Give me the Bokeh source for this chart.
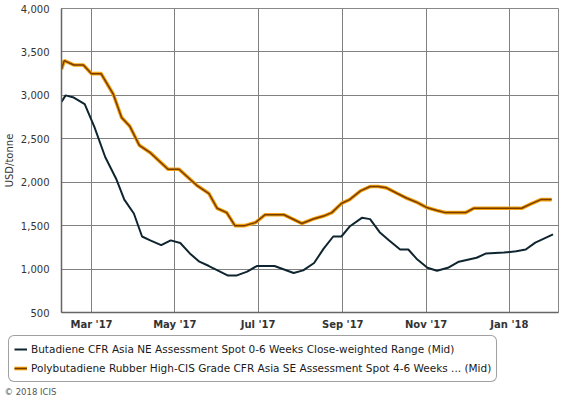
from datetime import datetime
from bokeh.plotting import figure
from bokeh.layouts import column
from bokeh.models import (Range1d, FixedTicker, Legend, LegendItem, Label)
from bokeh.embed import file_html
from bokeh.resources import INLINE

# ---------------- data ----------------
bd_dates = ["2017-02-07", "2017-02-10", "2017-02-16", "2017-02-24", "2017-03-03",
            "2017-03-11", "2017-03-19", "2017-03-25", "2017-04-01", "2017-04-07",
            "2017-04-13", "2017-04-21", "2017-04-28", "2017-05-05", "2017-05-12",
            "2017-05-19", "2017-05-26", "2017-06-02", "2017-06-09", "2017-06-15",
            "2017-06-23", "2017-06-30", "2017-07-13", "2017-07-21", "2017-07-27",
            "2017-08-03", "2017-08-11", "2017-08-18", "2017-08-25", "2017-08-31",
            "2017-09-06", "2017-09-15", "2017-09-21", "2017-09-28", "2017-10-05",
            "2017-10-13", "2017-10-19", "2017-10-25", "2017-11-02", "2017-11-09",
            "2017-11-17", "2017-11-25", "2017-12-08", "2017-12-15", "2017-12-28",
            "2018-01-06", "2018-01-13", "2018-01-20", "2018-02-02"]
bd_vals = [2925, 3000, 2975, 2900, 2640,
           2290, 2040, 1800, 1640, 1375,
           1330, 1275, 1330, 1300, 1180,
           1085, 1035, 980, 925, 925,
           970, 1035, 1035, 990, 955,
           985, 1070, 1235, 1375, 1375,
           1490, 1590, 1575, 1425, 1330,
           1225, 1225, 1120, 1015, 980,
           1015, 1085, 1130, 1180, 1190,
           1205, 1225, 1305, 1400]

pbr_dates = ["2017-02-07", "2017-02-09", "2017-02-16", "2017-02-23", "2017-03-01",
             "2017-03-08", "2017-03-17", "2017-03-23", "2017-03-29", "2017-04-05",
             "2017-04-13", "2017-04-26", "2017-05-04", "2017-05-17", "2017-05-26",
             "2017-06-01", "2017-06-08", "2017-06-14", "2017-06-21", "2017-06-29",
             "2017-07-06", "2017-07-20", "2017-08-02", "2017-08-11", "2017-08-18",
             "2017-08-24", "2017-08-31", "2017-09-06", "2017-09-14", "2017-09-21",
             "2017-09-27", "2017-10-03", "2017-10-11", "2017-10-18", "2017-10-25",
             "2017-11-02", "2017-11-09", "2017-11-15", "2017-11-30", "2017-12-06",
             "2018-01-10", "2018-01-16", "2018-01-24", "2018-02-01"]
pbr_vals = [3300, 3400, 3350, 3350, 3250,
            3250, 3010, 2745, 2645, 2425,
            2340, 2150, 2150, 1965, 1870,
            1700, 1650, 1500, 1500, 1535,
            1625, 1625, 1525, 1580, 1610,
            1650, 1755, 1800, 1900, 1950,
            1950, 1935, 1870, 1815, 1770,
            1705, 1675, 1650, 1650, 1700,
            1700, 1745, 1800, 1800]

tick_dates = ["2017-03-01", "2017-05-01", "2017-07-01", "2017-09-01", "2017-11-01", "2018-01-01"]
tick_labels = ["Mar '17", "May '17", "Jul '17", "Sep '17", "Nov '17", "Jan '18"]
y_ticks = [500, 1000, 1500, 2000, 2500, 3000, 3500, 4000]
y_labels = ["500", "1,000", "1,500", "2,000", "2,500", "3,000", "3,500", "4,000"]

series1_name = "Butadiene CFR Asia NE Assessment Spot 0-6 Weeks Close-weighted Range (Mid)"
series2_name = "Polybutadiene Rubber High-CIS Grade CFR Asia SE Assessment Spot 4-6 Weeks ... (Mid)"
copyright_text = "© 2018 ICIS"
x_start, x_end = "2017-02-07", "2018-02-06"

# ---------------- chart ----------------
def d(s):
    return datetime.strptime(s, "%Y-%m-%d")

def ms(s):
    return (d(s) - datetime(1970, 1, 1)).total_seconds() * 1000.0

FONT = "DejaVu Sans"
BD_COLOR = "#0e2530"
PBR_HALO = "#f2a20c"
PBR_CORE = "#7a3a00"

p = figure(width=560, height=334, x_axis_type="datetime",
           output_backend="svg", toolbar_location=None,
           min_border_left=61, min_border_right=2,
           min_border_top=8, min_border_bottom=22)
p.x_range = Range1d(d(x_start), d(x_end))
p.y_range = Range1d(500, 4000)

p.background_fill_color = "white"
p.border_fill_color = "white"
p.outline_line_color = "#888888"
p.outline_line_width = 1

xt = [ms(t) for t in tick_dates]
p.xaxis.ticker = FixedTicker(ticks=xt)
p.xaxis.major_label_overrides = {v: l for v, l in zip(xt, tick_labels)}
p.yaxis.ticker = FixedTicker(ticks=y_ticks)
p.yaxis.major_label_overrides = {v: l for v, l in zip(y_ticks, y_labels)}

for ax in (p.xaxis, p.yaxis):
    ax.major_tick_line_color = None
    ax.minor_tick_line_color = None
    ax.axis_line_color = "#666666"
    ax.axis_line_width = 1.5
    ax.major_label_text_font = FONT
    ax.major_label_text_color = "#333333"

p.xaxis.major_label_text_font_size = "10px"
p.xaxis.major_label_text_font_style = "bold"
p.xaxis.major_label_standoff = 0
p.yaxis.major_label_text_font_size = "10px"
p.yaxis.major_label_standoff = 6
p.yaxis.axis_label = "USD/tonne"
p.yaxis.axis_label_text_font = FONT
p.yaxis.axis_label_text_font_size = "10px"
p.yaxis.axis_label_text_font_style = "normal"
p.yaxis.axis_label_text_color = "#333333"
p.yaxis.axis_label_standoff = 3

p.xgrid.grid_line_color = "#808080"
p.ygrid.grid_line_color = "#808080"
p.xgrid.grid_line_width = 1
p.ygrid.grid_line_width = 1

p.line([d(s) for s in bd_dates], bd_vals, line_color=BD_COLOR, line_width=2)
p.line([d(s) for s in pbr_dates], pbr_vals, line_color=PBR_HALO, line_width=3.6)
p.line([d(s) for s in pbr_dates], pbr_vals, line_color=PBR_CORE, line_width=1.5)

# ---------------- legend + credit strip ----------------
q = figure(width=560, height=62, output_backend="svg", toolbar_location=None,
           x_axis_location=None, y_axis_location=None,
           min_border_left=0, min_border_right=0, min_border_top=0, min_border_bottom=0,
           x_range=Range1d(0, 1), y_range=Range1d(0, 1))
q.xgrid.visible = False
q.ygrid.visible = False
q.outline_line_color = None
q.background_fill_color = "white"
q.border_fill_color = "white"
if "frame_align" in q.properties():
    q.frame_align = False
    p.frame_align = False

# legend key lines sit outside the strip's visible range
l_bd = q.line([5, 6], [5, 6], line_color=BD_COLOR, line_width=2)
l_halo = q.line([5, 6], [5, 6], line_color=PBR_HALO, line_width=3.6)
l_core = q.line([5, 6], [5, 6], line_color=PBR_CORE, line_width=1.5)

legend = Legend(items=[LegendItem(label=series1_name, renderers=[l_bd]),
                       LegendItem(label=series2_name, renderers=[l_halo, l_core])],
                location=(8, 14), orientation="vertical")
legend.label_text_font = FONT
legend.label_text_font_size = "10.5px"
legend.label_text_color = "#1a1a1a"
legend.glyph_width = 13
legend.glyph_height = 16
legend.label_standoff = 4
legend.label_height = 16
legend.spacing = 3
legend.padding = 5
legend.margin = 0
legend.border_line_color = "#444444"
legend.border_line_width = 1
legend.background_fill_color = "white"
legend.background_fill_alpha = 1
try:
    if "border_radius" in Legend.properties():
        legend.border_radius = 6
except Exception:
    pass
q.add_layout(legend, "center")

q.add_layout(Label(x=4, y=5, x_units="screen", y_units="screen", text=copyright_text,
                   text_font=FONT, text_font_size="8.5px", text_color="#555555",
                   text_baseline="middle", text_align="left"))

layout = column(p, q, spacing=0)
open("out.html", "w").write(file_html(layout, INLINE))
